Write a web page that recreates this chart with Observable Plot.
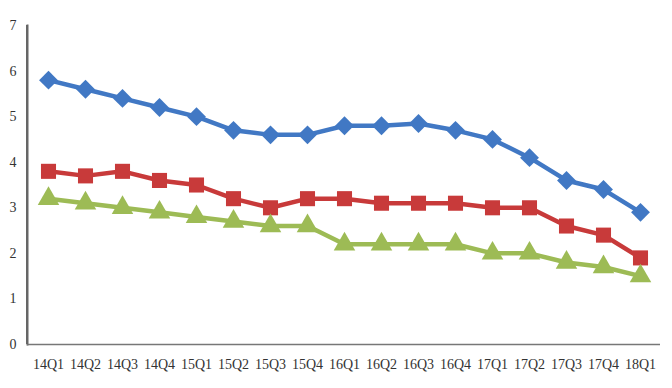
<!DOCTYPE html>
<html><head><meta charset="utf-8">
<script src="https://cdn.jsdelivr.net/npm/d3@7"></script>
<script src="https://cdn.jsdelivr.net/npm/@observablehq/plot@0.6"></script>
<style>body{margin:0;background:#fff}</style>
</head><body><div id="chart"></div>
<script>
const quarters = ["14Q1","14Q2","14Q3","14Q4","15Q1","15Q2","15Q3","15Q4","16Q1","16Q2","16Q3","16Q4","17Q1","17Q2","17Q3","17Q4","18Q1"];
const blueValues = [5.8,5.6,5.4,5.2,5.0,4.7,4.6,4.6,4.8,4.8,4.85,4.7,4.5,4.1,3.6,3.4,2.9];
const redValues  = [3.8,3.7,3.8,3.6,3.5,3.2,3.0,3.2,3.2,3.1,3.1,3.1,3.0,3.0,2.6,2.4,1.9];
const greenValues= [3.2,3.1,3.0,2.9,2.8,2.7,2.6,2.6,2.2,2.2,2.2,2.2,2.0,2.0,1.8,1.7,1.5];
const yTicks = [0,1,2,3,4,5,6,7];

const series = [
  {name:"blue", values: blueValues, color:"#4178c4", symbol:"diamond2", r:8.5},
  {name:"red", values: redValues, color:"#c83a3a", symbol:"square", r:8.5},
  {name:"green", values: greenValues, color:"#9dbb55", symbol:"triangle", r:8}
];
const marks = [];
for (const s of series) {
  const data = quarters.map((q,i)=>({q, v:s.values[i]}));
  marks.push(Plot.lineY(data,{x:"q",y:"v",stroke:s.color,strokeWidth:4.5}));
  marks.push(Plot.dot(data,{x:"q",y:"v",fill:s.color,stroke:"none",symbol:s.symbol,r:s.r}));
}
const marginLeft = 27;
const chart = Plot.plot({
  width:672, height:388,
  marginLeft, marginRight:12, marginTop:25, marginBottom:44,
  style:{fontFamily:"'Liberation Serif', serif", fontSize:"14px", color:"#333", background:"#fff"},
  x:{type:"point", domain:quarters, padding:0.5, label:null},
  y:{domain:[0,7], label:null},
  marks:[
    Plot.frame({anchor:"left", stroke:"#666", strokeWidth:2}),
    Plot.ruleY([0],{stroke:"#777", strokeWidth:1.5}),
    Plot.axisY(yTicks,{tickSize:0, tickPadding:11, tickFormat:d3.format("d"), label:null, fontSize:14}),
    Plot.axisX(quarters,{tickSize:0, tickPadding:15, label:null, fontSize:14}),
    ...marks
  ]
});
// extra vertical axis line spanning the y scale's range, to strengthen the left axis
const yr = chart.scale("y").range;
const ln = document.createElementNS("http://www.w3.org/2000/svg","line");
ln.setAttribute("x1", marginLeft); ln.setAttribute("x2", marginLeft);
ln.setAttribute("y1", yr[0]); ln.setAttribute("y2", yr[1]);
ln.setAttribute("stroke", "#666"); ln.setAttribute("stroke-width", 2);
chart.appendChild(ln);
chart.querySelectorAll("text").forEach(t=>{t.style.fontSize="14px";});
document.getElementById("chart").appendChild(chart);
</script></body></html>
